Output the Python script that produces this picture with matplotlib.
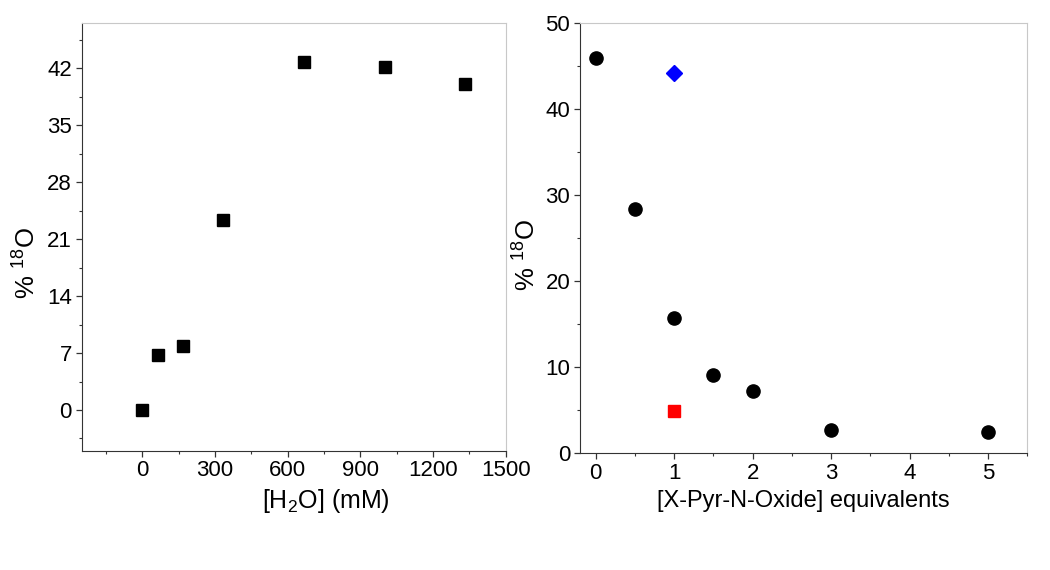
import matplotlib
matplotlib.use("Agg")
import matplotlib.pyplot as plt
from matplotlib.ticker import MultipleLocator

plt.rcParams['font.family'] = ['Liberation Sans', 'DejaVu Sans']
plt.rcParams['mathtext.fontset'] = 'custom'
plt.rcParams['mathtext.rm'] = 'Liberation Sans'
plt.rcParams['mathtext.it'] = 'Liberation Sans:italic'

# left panel: water concentration series
water_mM = [0, 67, 167, 333, 667, 1000, 1333]
water_o18 = [0.0, 6.8, 7.9, 23.4, 42.8, 42.1, 40.0]

# right panel: N-oxide equivalents series
equiv = [0, 0.5, 1, 1.5, 2, 3, 5]
equiv_o18 = [46.0, 28.4, 15.7, 9.1, 7.3, 2.7, 2.5]
blue_x, blue_y = [1], [44.2]
red_x, red_y = [1], [4.95]

fig = plt.figure(figsize=(10.5, 5.7), dpi=100)
ax1 = fig.add_axes([0.0778, 0.2093, 0.4038, 0.7497])
ax2 = fig.add_axes([0.5524, 0.2047, 0.4260, 0.7543])

for ax in (ax1, ax2):
    for side in ('top', 'right'):
        ax.spines[side].set_color('#c8c8c8')
    for side in ('left', 'bottom'):
        ax.spines[side].set_color('#333333')
    ax.tick_params(which='major', direction='out', length=4, width=0.9, pad=3,
                   labelsize=16, top=False, right=False, color='#333333')
    ax.tick_params(which='minor', direction='out', length=2, width=0.8,
                   top=False, right=False, color='#333333')

ax1.plot(water_mM, water_o18, 's', color='black', ms=8, linestyle='none')
ax1.set_xlim(-250, 1500)
ax1.set_ylim(-5, 47.5)
ax1.xaxis.set_major_locator(MultipleLocator(300))
ax1.xaxis.set_minor_locator(MultipleLocator(150))
ax1.yaxis.set_major_locator(MultipleLocator(7))
ax1.yaxis.set_minor_locator(MultipleLocator(3.5))
ax1.set_xlabel(r'[H$_2$O] (mM)', fontsize=18)
ax1.xaxis.set_label_coords(0.576, -0.085)
ax1.set_ylabel(r'% $^{18}$O', fontsize=18.5)
ax1.yaxis.set_label_coords(-0.096, 0.44)

ax2.plot(equiv, equiv_o18, 'o', color='black', ms=9.5, linestyle='none')
ax2.plot(blue_x, blue_y, 'D', color='#0000ff', ms=8, linestyle='none')
ax2.plot(red_x, red_y, 's', color='#ff0000', ms=8, linestyle='none')
ax2.set_xlim(-0.2, 5.5)
ax2.set_ylim(0, 50)
ax2.xaxis.set_major_locator(MultipleLocator(1))
ax2.xaxis.set_minor_locator(MultipleLocator(0.5))
ax2.yaxis.set_major_locator(MultipleLocator(10))
ax2.yaxis.set_minor_locator(MultipleLocator(5))
ax2.set_xlabel('[X-Pyr-N-Oxide] equivalents', fontsize=17)
ax2.xaxis.set_label_coords(0.5, -0.085)
ax2.set_ylabel(r'% $^{18}$O', fontsize=18.5)
ax2.yaxis.set_label_coords(-0.089, 0.46)

fig.savefig('out.png', dpi=100)
